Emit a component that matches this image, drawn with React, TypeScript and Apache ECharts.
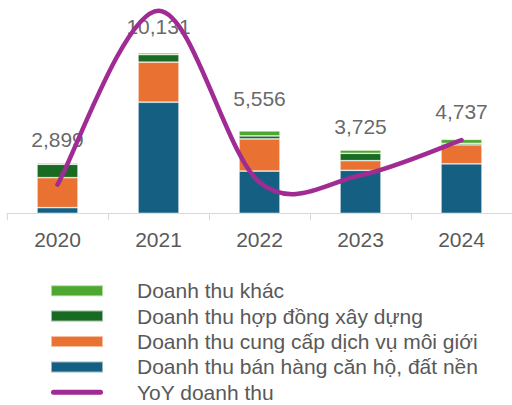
import React, { useEffect, useRef } from "react";
import * as echarts from "echarts";

const years = ["2020", "2021", "2022", "2023", "2024"];
const banHang = [360, 7090, 2700, 2745, 3160];
const dichVu = [1915, 2555, 2045, 615, 1215];
const hopDong = [855, 485, 190, 470, 90];
const khac = [65, 110, 320, 210, 255];
const totals = [2899, 10131, 5556, 3725, 4737];
const yoy = [-49, 248, -45, -33, 27];

const NAMES = {
  khac: "Doanh thu khác",
  hopDong: "Doanh thu hợp đồng xây dựng",
  dichVu: "Doanh thu cung cấp dịch vụ môi giới",
  banHang: "Doanh thu bán hàng căn hộ, đất nền",
  yoy: "YoY doanh thu",
};

const PURPLE = "#A02B93";

export default function App() {
  const ref = useRef<HTMLDivElement>(null);
  useEffect(() => {
    const chart = echarts.init(ref.current!, null, { renderer: "svg" });
    const font = "'Liberation Sans', Arial, sans-serif";
    const barBase = {
      type: "bar",
      stack: "rev",
      barWidth: 41,
      z: 2,
      itemStyle: { borderColor: "rgba(255,255,255,0.55)", borderWidth: 0.75 },
    };
    const renderCurve = (params: any, api: any) => {
      if (params.dataIndex !== 0) return null;
      const pts = yoy.map((v, i) => api.coord([i, v]));
      const n = pts.length;
      let d = `M${pts[0][0]},${pts[0][1]}`;
      for (let i = 0; i < n - 1; i++) {
        const p0 = pts[Math.max(i - 1, 0)];
        const p1 = pts[i];
        const p2 = pts[i + 1];
        const p3 = pts[Math.min(i + 2, n - 1)];
        const c1x = p1[0] + (p2[0] - p0[0]) / 6;
        const c1y = p1[1] + (p2[1] - p0[1]) / 6;
        const c2x = p2[0] - (p3[0] - p1[0]) / 6;
        const c2y = p2[1] - (p3[1] - p1[1]) / 6;
        d += ` C${c1x},${c1y} ${c2x},${c2y} ${p2[0]},${p2[1]}`;
      }
      return {
        type: "path",
        shape: { pathData: d },
        style: { stroke: PURPLE, lineWidth: 4.5, fill: "none", lineCap: "round", lineJoin: "round" },
        z2: 10,
      };
    };
    chart.setOption({
      animation: false,
      backgroundColor: "#ffffff",
      textStyle: { fontFamily: font },
      grid: { left: 7, top: 25.3, width: 509, bottom: 405 - 213.3, containLabel: false },
      xAxis: {
        type: "category",
        data: years,
        boundaryGap: true,
        axisLine: { lineStyle: { color: "#D9D9D9", width: 1 } },
        axisTick: { show: true, length: 7, alignWithLabel: false, lineStyle: { color: "#D9D9D9" } },
        axisLabel: { color: "#595959", fontSize: 21, margin: 16, fontFamily: font },
      },
      yAxis: [
        { type: "value", min: 0, max: 12000, show: false, splitLine: { show: false } },
        { type: "value", min: -98, max: 223, show: false, splitLine: { show: false } },
      ],
      legend: {
        orient: "vertical",
        left: 50,
        top: 278,
        height: 130,
        padding: 0,
        itemWidth: 52,
        itemHeight: 11,
        itemGap: 0,
        textStyle: {
          color: "#595959",
          fontSize: 21,
          fontFamily: font,
          lineHeight: 25.4,
          padding: [0, 0, 0, 29],
        },
        data: [
          { name: NAMES.khac, icon: "rect" },
          { name: NAMES.hopDong, icon: "rect" },
          { name: NAMES.dichVu, icon: "rect" },
          { name: NAMES.banHang, icon: "rect" },
          {
            name: NAMES.yoy,
            icon: "path://M2.5,0H49.5A2.5,2.5,0,0,1,49.5,5H2.5A2.5,2.5,0,0,1,2.5,0Z",
            itemStyle: { color: PURPLE },
          },
        ],
      },
      series: [
        { ...barBase, name: NAMES.banHang, data: banHang, itemStyle: { ...barBase.itemStyle, color: "#156082" } },
        { ...barBase, name: NAMES.dichVu, data: dichVu, itemStyle: { ...barBase.itemStyle, color: "#E97132" } },
        { ...barBase, name: NAMES.hopDong, data: hopDong, itemStyle: { ...barBase.itemStyle, color: "#196B24" } },
        { ...barBase, name: NAMES.khac, data: khac, itemStyle: { ...barBase.itemStyle, color: "#4EA72E" } },
        {
          type: "scatter",
          name: "totals",
          data: totals,
          symbolSize: 1,
          z: 2,
          itemStyle: { color: "rgba(0,0,0,0)" },
          label: {
            show: true,
            position: "top",
            distance: 17,
            color: "#404040",
            fontSize: 21,
            fontFamily: font,
            formatter: (p: any) => Number(p.value).toLocaleString("en-US"),
          },
          silent: true,
        },
        {
          type: "custom",
          name: NAMES.yoy,
          yAxisIndex: 1,
          data: yoy.map((v, i) => [i, v]),
          renderItem: renderCurve,
          clip: false,
          z: 5,
          itemStyle: { color: PURPLE },
          silent: true,
        },
      ],
    });
    return () => chart.dispose();
  }, []);
  return <div ref={ref} style={{ width: 512, height: 405, position: "absolute", left: 0, top: 0 }} />;
}
